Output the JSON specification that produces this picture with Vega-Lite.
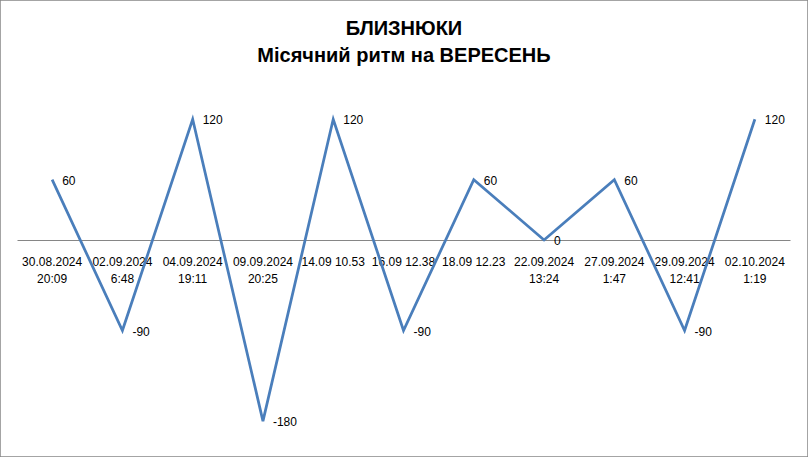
{
  "$schema": "https://vega.github.io/schema/vega-lite/v6.json",
  "width": 808,
  "height": 457,
  "autosize": "none",
  "padding": 0,
  "background": "#ffffff",
  "view": {"stroke": "#868686", "strokeWidth": 1.5},
  "title": {
    "text": ["БЛИЗНЮКИ", "Місячний ритм на ВЕРЕСЕНЬ"],
    "anchor": "middle",
    "font": "Liberation Sans",
    "fontSize": 20,
    "fontWeight": "bold",
    "color": "#000000",
    "lineHeight": 27,
    "baseline": "top",
    "offset": -66
  },
  "data": {
    "values": [
      {"date": "30.08.2024|20:09", "value": 60},
      {"date": "02.09.2024|6:48", "value": -90},
      {"date": "04.09.2024|19:11", "value": 120},
      {"date": "09.09.2024|20:25", "value": -180},
      {"date": "14.09 10.53", "value": 120},
      {"date": "16.09 12.38", "value": -90},
      {"date": "18.09 12.23", "value": 60},
      {"date": "22.09.2024|13:24", "value": 0},
      {"date": "27.09.2024|1:47", "value": 60},
      {"date": "29.09.2024|12:41", "value": -90},
      {"date": "02.10.2024|1:19", "value": 120}
    ]
  },
  "encoding": {
    "x": {
      "field": "date",
      "type": "nominal",
      "sort": null,
      "scale": {"type": "band", "range": [17, 790], "paddingInner": 0, "paddingOuter": 0},
      "axis": {
        "title": null,
        "orient": "bottom",
        "offset": -217,
        "domainColor": "#868686",
        "domainWidth": 1,
        "ticks": false,
        "labelAngle": 0,
        "labelPadding": 16,
        "labelFont": "Liberation Sans",
        "labelFontSize": 12,
        "labelColor": "#000000",
        "labelLineHeight": 17,
        "labelExpr": "split(datum.value, '|')"
      }
    },
    "y": {
      "field": "value",
      "type": "quantitative",
      "scale": {"domain": [-215.7, 238.6], "nice": false, "zero": false},
      "axis": null
    }
  },
  "layer": [
    {
      "mark": {"type": "line", "color": "#4A7EBB", "strokeWidth": 2.75}
    },
    {
      "mark": {
        "type": "text",
        "align": "left",
        "baseline": "middle",
        "dx": 10,
        "dy": 1,
        "font": "Liberation Sans",
        "fontSize": 12,
        "color": "#000000"
      },
      "encoding": {"text": {"field": "value", "type": "nominal"}}
    }
  ]
}
